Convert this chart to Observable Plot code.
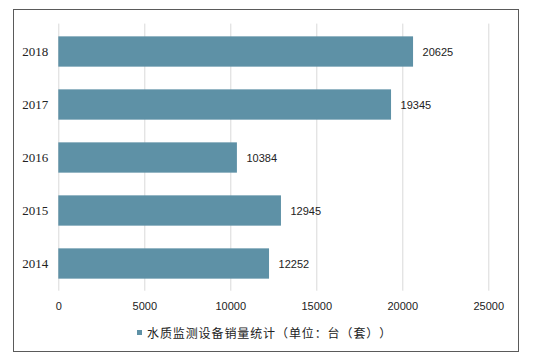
<!DOCTYPE html>
<html>
<head>
<meta charset="utf-8">
<script src="https://cdn.jsdelivr.net/npm/d3@7"></script>
<script src="https://cdn.jsdelivr.net/npm/@observablehq/plot@0.6"></script>
<style>
  body { margin: 0; background: #fff; }
  #wrap { position: relative; width: 541px; height: 360px; overflow: hidden; }
  #frame { position: absolute; left: 13px; top: 9px; width: 504px; height: 341px; border: 1px solid #5a5a5a; }
  #chart { position: absolute; left: 0; top: 0; }
  #legend { position: absolute; left: 137px; top: 324px; height: 16px; display: flex; align-items: center;
            font-family: "Noto Sans CJK SC", sans-serif; font-size: 12px; color: #222; white-space: nowrap;
            text-spacing-trim: space-all; font-kerning: none; font-feature-settings: "chws" 0, "halt" 0, "palt" 0;
            letter-spacing: 0.9px; }
  #legend .sw { display: inline-block; width: 5px; height: 5px; background: #5e91a6; margin-right: 5px; }
</style>
</head>
<body>
<div id="wrap">
  <div id="frame"></div>
  <div id="chart"></div>
  <div id="legend"><span class="sw"></span><span>水质监测设备销量统计（单位：台（套））</span></div>
</div>
<script>
const years = ["2018", "2017", "2016", "2015", "2014"];
const values = [20625, 19345, 10384, 12945, 12252];
const xTicks = [0, 5000, 10000, 15000, 20000, 25000];

const data = years.map((y, i) => ({year: y, value: values[i]}));
const barColor = "#5e91a6";

const chart = Plot.plot({
  width: 541,
  height: 318,
  marginLeft: 58.3,
  marginRight: 52.7,
  marginTop: 23.6,
  marginBottom: 27.3,
  style: {fontFamily: "Liberation Sans, Arial, sans-serif", fontSize: "11px", color: "#222", background: "transparent", overflow: "visible"},
  x: {domain: [0, 25000], ticks: xTicks},
  y: {domain: years, padding: 0},
  marks: [
    Plot.gridX(xTicks, {stroke: "#d9d9d9", strokeOpacity: 1, strokeWidth: 1}),
    Plot.axisX(xTicks, {tickSize: 0, tickPadding: 10.5, label: null, tickFormat: d => String(d), fontSize: 11}),
    Plot.axisY({tickSize: 0, tickPadding: 10.5, label: null, fontFamily: "Liberation Serif, Times New Roman, serif", fontSize: 13}),
    Plot.barX(data, {y: "year", x: "value", fill: barColor, insetTop: 11.35, insetBottom: 11.35}),
    Plot.text(data, {y: "year", x: "value", text: d => String(d.value), textAnchor: "start", dx: 9, fontSize: 11, fill: "#222"})
  ]
});
document.getElementById("chart").appendChild(chart);
</script>
</body>
</html>
